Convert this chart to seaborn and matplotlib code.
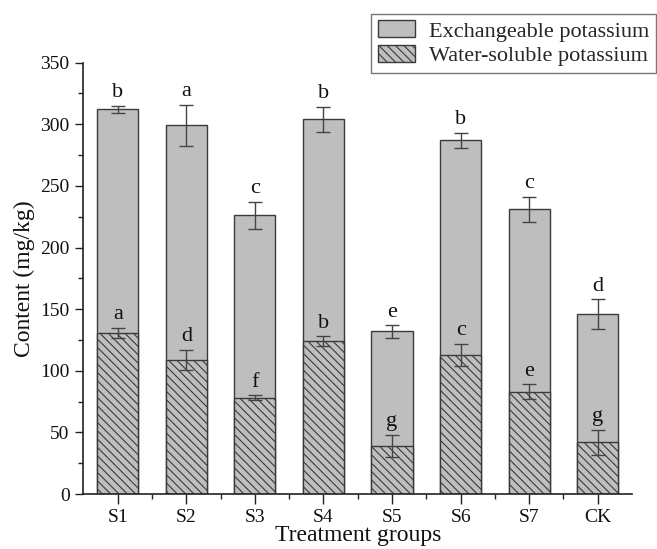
import matplotlib
matplotlib.use("Agg")
import matplotlib.pyplot as plt
import seaborn as sns
import numpy as np
import pandas as pd
from matplotlib.patches import Patch

groups = ["S1", "S2", "S3", "S4", "S5", "S6", "S7", "CK"]
total_k = [312, 299, 226, 304, 132, 287, 231, 146]
total_err = [3, 17, 11, 10, 5, 6, 10, 12]
water_k = [131, 109, 78, 124, 39, 113, 83, 42]
water_err = [4, 8, 2, 4, 9, 9, 6, 10]
total_letters = ["b", "a", "c", "b", "e", "b", "c", "d"]
water_letters = ["a", "d", "f", "b", "g", "c", "e", "g"]

sns.set_style("ticks")
plt.rcParams["font.family"] = ["Liberation Serif", "DejaVu Serif"]
plt.rcParams["hatch.linewidth"] = 0.8
plt.rcParams["hatch.color"] = "#3a3a3a"

df = pd.DataFrame({"group": groups, "total": total_k, "water": water_k})

fig = plt.figure(figsize=(6.57, 5.49), dpi=100)
ax = fig.add_axes([0.127, 0.100, 0.835, 0.786])

fill = "#bebebe"
edge = "#3a3a3a"

sns.barplot(data=df, x="group", y="total", color=fill, width=0.6,
            edgecolor=edge, linewidth=1.0, saturation=1, ax=ax, errorbar=None)
n_tot = len(ax.patches)
sns.barplot(data=df, x="group", y="water", color=fill, width=0.6,
            edgecolor=edge, linewidth=1.0, saturation=1, ax=ax, errorbar=None)
for p in ax.patches[n_tot:]:
    p.set_hatch("\\\\\\\\")
    p.set_edgecolor(edge)

xs = np.arange(len(groups))
ax.errorbar(xs, total_k, yerr=total_err, fmt="none", ecolor="#444444",
            elinewidth=1.0, capsize=5, capthick=1.0, zorder=5)
ax.errorbar(xs, water_k, yerr=water_err, fmt="none", ecolor="#444444",
            elinewidth=1.0, capsize=5, capthick=1.0, zorder=5)

for x, v, e, t in zip(xs, total_k, total_err, total_letters):
    ax.text(x, v + e + 7, t, ha="center", va="baseline", fontsize=16, color="#111111")
for x, v, e, t in zip(xs, water_k, water_err, water_letters):
    ax.text(x, v + e + 7, t, ha="center", va="baseline", fontsize=16, color="#111111")

ax.set_xlim(-0.5, 7.5)
ax.set_ylim(0, 350)
ax.set_yticks(np.arange(0, 351, 50))
ax.set_yticks(np.arange(25, 350, 50), minor=True)
ax.set_xticks(np.arange(0.5, 7.5, 1), minor=True)
ax.tick_params(axis="both", which="major", labelsize=14, direction="out",
               length=6, width=1.0, color="#222222", labelcolor="#111111")
ax.tick_params(axis="both", which="minor", direction="out", length=3.5, width=1.0,
               color="#222222")
ax.tick_params(axis="x", which="major", length=7, pad=4)
ax.tick_params(axis="y", which="major", pad=4)

for s in ["top", "right"]:
    ax.spines[s].set_visible(False)
for s in ["left", "bottom"]:
    ax.spines[s].set_linewidth(1.2)
    ax.spines[s].set_color("#222222")

ax.set_xlabel("Treatment groups", fontsize=17, labelpad=-1, color="#111111")
ax.set_ylabel("Content (mg/kg)", fontsize=17, labelpad=4, color="#111111")

handles = [Patch(facecolor=fill, edgecolor=edge, linewidth=1.0),
           Patch(facecolor=fill, edgecolor=edge, linewidth=1.0, hatch="\\\\\\\\")]
leg = fig.legend(handles, ["Exchangeable potassium", "Water-soluble potassium"],
                 loc="upper right", bbox_to_anchor=(0.998, 0.975), fontsize=16,
                 frameon=True, fancybox=False, edgecolor="#555555",
                 handlelength=1.7, handleheight=0.8, handletextpad=0.6,
                 borderpad=0.3, labelspacing=0.15, borderaxespad=0)
leg.get_frame().set_linewidth(1.0)

fig.savefig("out.png", dpi=100)
